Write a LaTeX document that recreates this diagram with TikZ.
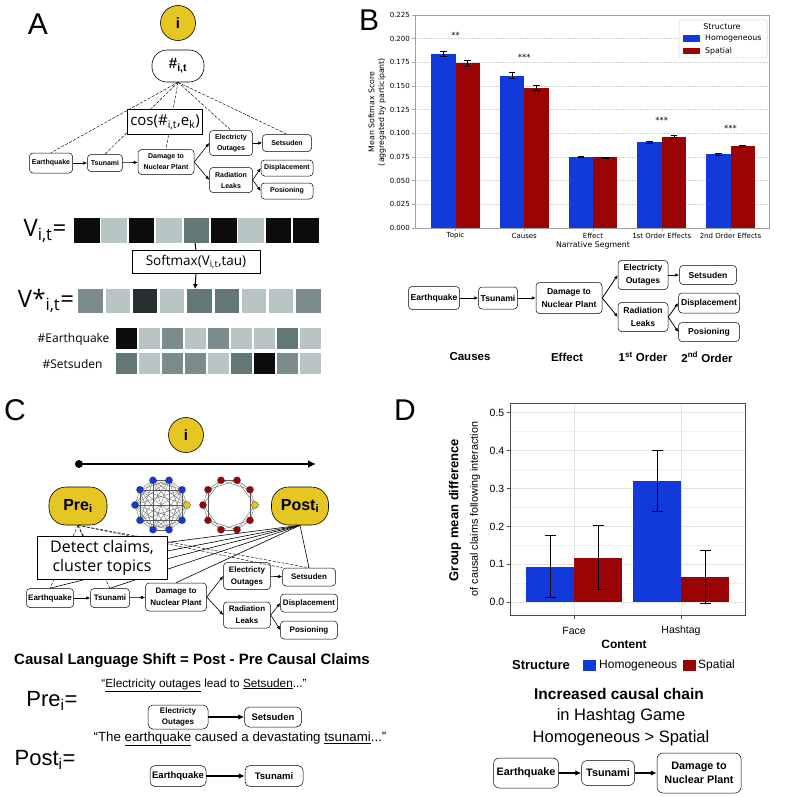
\documentclass[tikz,border=0pt]{standalone}
\usepackage{fontspec}
\setmainfont{Liberation Sans}
\newfontfamily\dvs{DejaVu Sans}
\newfontfamily\opn{Open Sans}
\usetikzlibrary{arrows.meta}
\definecolor{gold}{RGB}{230,198,35}
\definecolor{hblue}{RGB}{18,58,218}
\definecolor{sred}{RGB}{155,4,4}
\definecolor{sqA}{RGB}{12,12,12}
\definecolor{sqL}{RGB}{184,197,197}
\definecolor{sqM}{RGB}{122,140,140}
\definecolor{sqD}{RGB}{100,119,119}
\definecolor{sqK}{RGB}{38,48,48}
\begin{document}
\begin{tikzpicture}[x=1pt,y=-1pt,
  chainbox/.style={draw, rounded corners=3.5pt, fill=white, align=center, inner sep=0.5pt, line width=0.5pt},
  fA/.style={font=\bfseries\fontsize{7}{11}\selectfont},
  fB/.style={font=\bfseries\fontsize{8.6}{13}\selectfont},
  fC/.style={font=\bfseries\fontsize{8}{12}\selectfont},
  sarr/.style={-{Latex[length=4pt,width=3.5pt]}, line width=0.6pt},
  barr/.style={-{Latex[length=6pt,width=5.5pt]}, line width=1.5pt},
  dl/.style={dash pattern=on 3pt off 1.5pt, line width=0.45pt},
  sl/.style={line width=0.6pt},
  ibubble/.style={circle, draw, line width=0.6pt, fill=gold, minimum size=35, inner sep=0, font=\bfseries\fontsize{15}{15}\selectfont},
  letter/.style={font=\fontsize{30}{30}\selectfont},
  gridB/.style={gray!35, dash pattern=on 2pt off 1pt, line width=0.4pt},
  fdv/.style={font=\dvs\fontsize{7}{8}\selectfont},
  netb/.style={circle, draw=black!80, line width=0.3pt, fill=hblue, minimum size=7, inner sep=0},
  netr/.style={circle, draw=black!80, line width=0.3pt, fill=sred, minimum size=7, inner sep=0},
  nety/.style={circle, draw=black!80, line width=0.3pt, fill=gold, minimum size=7, inner sep=0},
  dgrid/.style={gray!22, line width=0.8pt},
  dgridm/.style={gray!12, line width=0.5pt},
]
\useasboundingbox (0,0) rectangle (786,797);
\fill[white] (0,0) rectangle (786,797);

% ================= Panel A =================
\node[letter] (la) at (38,24) {A};
\node[ibubble] (ai) at (178,23) {i};
\node[draw, fill=white, rounded corners=15pt, minimum width=52, minimum height=32, line width=0.6pt, font=\bfseries\fontsize{15}{15}\selectfont] (ahub) at (178,66) {\#\textsubscript{i,t}};

\node[chainbox, fA, minimum width=43, minimum height=20] (aE) at (51,163) {Earthquake};
\node[chainbox, fA, minimum width=35, minimum height=17] (aT) at (105,163) {Tsunami};
\node[chainbox, fA, minimum width=56, minimum height=25] (aD) at (166,162) {Damage to\\Nuclear Plant};
\node[chainbox, fA, minimum width=43, minimum height=25] (aO) at (231,143) {Electricty\\Outages};
\node[chainbox, fA, minimum width=49, minimum height=17] (aS) at (287,143) {Setsuden};
\node[chainbox, fA, minimum width=43, minimum height=25] (aR) at (231,180) {Radiation\\Leaks};
\node[chainbox, fA, minimum width=52, minimum height=16] (aP) at (287,168) {Displacement};
\node[chainbox, fA, minimum width=52, minimum height=16] (aX) at (287,191) {Posioning};

\draw[sarr] (aE) -- (aT);
\draw[sarr] (aT) -- (aD);
\draw[sarr] (aD.east) -- (aO.west);
\draw[sarr] (aD.east) -- (aR.west);
\draw[sarr] (aO) -- (aS);
\draw[sarr] (aR.east) -- (aP.west);
\draw[sarr] (aR.east) -- (aX.west);

\foreach \t in {aE,aT,aD,aO,aS} \draw[dl] (ahub.south) -- (\t.north);

\node[draw, fill=white, line width=1pt, minimum width=75, minimum height=25, inner sep=1pt, font=\opn\fontsize{15}{15}\selectfont] (acos) at (165,122) {cos(\#\textsubscript{i,t},e\textsubscript{k})};

% vectors
\node[font=\opn\fontsize{24}{24}\selectfont] (vl) at (45,231) {V\textsubscript{i,t}=};
\foreach \c [count=\k] in {sqA,sqL,sqA,sqL,sqD,sqA,sqL,sqA,sqA}
  \fill[\c] ({74+27.4*(\k-1)},218) rectangle ++(25.5,25);
\node[font=\opn\fontsize{24}{24}\selectfont] (vsl) at (46,301) {V*\textsubscript{i,t}=};
\foreach \c [count=\k] in {sqM,sqL,sqK,sqL,sqD,sqD,sqL,sqL,sqM}
  \fill[\c] ({78.3+27.25*(\k-1)},289) rectangle ++(24.4,24);
\coordinate (v5) at (195,243);
\coordinate (w5) at (195,289);
\node[draw, fill=white, line width=0.8pt, minimum width=128, minimum height=23, inner sep=1pt, font=\opn\fontsize{13.5}{14}\selectfont] (sm) at (196,262) {Softmax(V\textsubscript{i,t},tau)};
\draw[line width=1pt] (v5) -- (sm.north);
\draw[line width=1pt, -{Latex[length=5pt,width=5pt]}] (sm.south) -- (w5);

\node[anchor=east, font=\opn\fontsize{12}{12}\selectfont] (heq) at (113,339) {\#Earthquake};
\foreach \c [count=\k] in {sqA,sqL,sqM,sqL,sqM,sqL,sqL,sqD,sqL}
  \fill[\c] ({115.7+23*(\k-1)},328) rectangle ++(21,21);
\node[anchor=east, font=\opn\fontsize{12}{12}\selectfont] (hset) at (106,364) {\#Setsuden};
\foreach \c [count=\k] in {sqD,sqL,sqM,sqM,sqL,sqD,sqA,sqM,sqL}
  \fill[\c] ({115.7+23*(\k-1)},353) rectangle ++(21,21);

% ================= Panel B =================
\node[letter] (lb) at (369,20) {B};
\begin{scope}[shift={(0,228)}, yscale=-946.7]
  \foreach \v in {0.025,0.05,0.075,0.1,0.125,0.15,0.175,0.2}
    \draw[gridB] (415,\v) -- (769,\v);
  \foreach \v/\t in {0/0.000,0.025/0.025,0.05/0.050,0.075/0.075,0.1/0.100,0.125/0.125,0.15/0.150,0.175/0.175,0.2/0.200,0.225/0.225}{
    \draw[gray!70, line width=0.4pt] (412,\v) -- (415,\v);
    \node[fdv, anchor=east, inner sep=1pt] at (411,\v) {\t};
  }
  \foreach \g/\b/\r/\eb/\er in {455.5/0.184/0.174/0.0022/0.003, 524.25/0.161/0.148/0.003/0.003, 593/0.0755/0.0745/0.0005/0.0005, 661.75/0.0905/0.0965/0.001/0.001, 730.5/0.078/0.0865/0.001/0.001}{
    \fill[hblue] ({\g-24.3},0) rectangle (\g,\b);
    \fill[sred] (\g,0) rectangle ({\g+24.3},\r);
    \draw[line width=0.7pt] ({\g-12.15},{\b-\eb}) -- ({\g-12.15},{\b+\eb});
    \draw[line width=0.6pt] ({\g-15.5},{\b-\eb}) -- ({\g-8.8},{\b-\eb});
    \draw[line width=0.6pt] ({\g-15.5},{\b+\eb}) -- ({\g-8.8},{\b+\eb});
    \draw[line width=0.7pt] ({\g+12.15},{\r-\er}) -- ({\g+12.15},{\r+\er});
    \draw[line width=0.6pt] ({\g+8.8},{\r-\er}) -- ({\g+15.5},{\r-\er});
    \draw[line width=0.6pt] ({\g+8.8},{\r+\er}) -- ({\g+15.5},{\r+\er});
    \draw[gray!70, line width=0.4pt] (\g,0) -- (\g,-0.003);
  }
  \node[font=\dvs\fontsize{8.5}{9}\selectfont] at (455.5,0.203) {**};
  \node[font=\dvs\fontsize{8.5}{9}\selectfont] at (524.25,0.180) {***};
  \node[font=\dvs\fontsize{8.5}{9}\selectfont] at (661.75,0.114) {***};
  \node[font=\dvs\fontsize{8.5}{9}\selectfont] at (730.5,0.105) {***};
\end{scope}
\draw[gray!75, line width=0.6pt] (415,15) rectangle (769,228);
\foreach \g/\t in {455.5/Topic,524.25/Causes,593/Effect,661.75/1st Order Effects,730.5/2nd Order Effects}
  \node[fdv] at (\g,235.5) {\t};
\node[font=\dvs\fontsize{7.8}{8}\selectfont] (bxl) at (593,245.5) {Narrative Segment};
\node[rotate=90, font=\dvs\fontsize{7.8}{8}\selectfont] (byl1) at (371.5,112) {Mean Softmax Score};
\node[rotate=90, font=\dvs\fontsize{7.8}{8}\selectfont] (byl2) at (382,112) {(aggregated by participant)};
\draw[gray!35, fill=white, rounded corners=1.5pt, line width=0.5pt] (679,20) rectangle (767,58);
\node[font=\dvs\fontsize{8}{9}\selectfont] (blt) at (722,26.5) {Structure};
\fill[hblue] (683,35.5) rectangle (700,42);
\node[font=\dvs\fontsize{7.8}{9}\selectfont, anchor=west, inner sep=0] (blh) at (705,38.8) {Homogeneous};
\fill[sred] (683,48) rectangle (700,54.5);
\node[font=\dvs\fontsize{7.8}{9}\selectfont, anchor=west, inner sep=0] (bls) at (705,51.3) {Spatial};

% B flow chart
\node[chainbox, fB, minimum width=51, minimum height=23] (bE) at (434,298) {Earthquake};
\node[chainbox, fB, minimum width=39, minimum height=22] (bT) at (498,298) {Tsunami};
\node[chainbox, fB, minimum width=66, minimum height=31] (bD) at (569,298) {Damage to\\Nuclear Plant};
\node[chainbox, fB, minimum width=50, minimum height=29] (bO) at (643,275) {Electricty\\Outages};
\node[chainbox, fB, minimum width=57, minimum height=19] (bS) at (708,275) {Setsuden};
\node[chainbox, fB, minimum width=50, minimum height=29] (bR) at (643,317) {Radiation\\Leaks};
\node[chainbox, fB, minimum width=61, minimum height=20] (bP) at (709,303) {Displacement};
\node[chainbox, fB, minimum width=61, minimum height=19] (bX) at (709,332) {Posioning};
\draw[sarr, line width=0.8pt] (bE) -- (bT);
\draw[sarr, line width=0.8pt] (bT) -- (bD);
\draw[sarr, line width=0.8pt] (bD.east) -- (bO.west);
\draw[sarr, line width=0.8pt] (bD.east) -- (bR.west);
\draw[sarr, line width=0.8pt] (bO) -- (bS);
\draw[sarr, line width=0.8pt] (bR.east) -- (bP.west);
\draw[sarr, line width=0.8pt] (bR.east) -- (bX.west);
\node[font=\bfseries\fontsize{11.5}{12}\selectfont] (bc1) at (470,357) {Causes};
\node[font=\bfseries\fontsize{11.5}{12}\selectfont] (bc2) at (567,357) {Effect};
\node[font=\bfseries\fontsize{11.5}{12}\selectfont] (bc3) at (643,357) {1\textsuperscript{st} Order};
\node[font=\bfseries\fontsize{11.5}{12}\selectfont] (bc4) at (707,357) {2\textsuperscript{nd} Order};

% ================= Panel C =================
\node[letter] (lc) at (15,410) {C};
\node[ibubble] (ci) at (186,435) {i};
\node[circle, fill=black, inner sep=0, minimum size=8] (tdot) at (79,464) {};
\coordinate (tend) at (316,464);
\draw[line width=2.2pt, -{Latex[length=8pt,width=8pt]}] (tdot.center) -- (tend);

\node[draw, fill=gold, rounded corners=17pt, minimum width=58, minimum height=38, line width=0.6pt, font=\bfseries\fontsize{16}{16}\selectfont] (pre) at (78,506) {Pre\textsubscript{i}};
\node[draw, fill=gold, rounded corners=17pt, minimum width=57, minimum height=38, line width=0.6pt, font=\bfseries\fontsize{16}{16}\selectfont] (post) at (300,506) {Post\textsubscript{i}};

% networks
\foreach \k in {0,...,9}{
  \coordinate (na\k) at ({161+26*cos(36*\k)},{505-26*sin(36*\k)});
  \coordinate (nb\k) at ({229+26*cos(36*\k)},{505-26*sin(36*\k)});
}
\foreach \a in {0,...,9}{
  \foreach \b in {0,...,9}{
    \ifnum\a<\b \draw[gray!70!black, line width=0.3pt] (na\a) -- (na\b); \fi
  }
}
\foreach \a in {0,...,9}{
  \pgfmathtruncatemacro\bb{mod(\a+1,10)}
  \pgfmathtruncatemacro\cc{mod(\a+2,10)}
  \draw[gray!70!black, line width=0.35pt] (nb\a) -- (nb\bb);
  \draw[gray!70!black, line width=0.35pt] (nb\a) -- (nb\cc);
}
\foreach \k in {1,...,9}{
  \node[netb] (nba\k) at (na\k) {};
  \node[netr] (nrb\k) at (nb\k) {};
}
\node[nety] (nya) at (na0) {};
\node[nety] (nyb) at (nb0) {};

% C chain
\node[chainbox, fC, minimum width=47, minimum height=19] (cE) at (50,598) {Earthquake};
\node[chainbox, fC, minimum width=39, minimum height=19] (cT) at (110,598) {Tsunami};
\node[chainbox, fC, minimum width=61, minimum height=28] (cD) at (176,597) {Damage to\\Nuclear Plant};
\node[chainbox, fC, minimum width=47, minimum height=27] (cO) at (247,576) {Electricty\\Outages};
\node[chainbox, fC, minimum width=53, minimum height=18] (cS) at (309,577) {Setsuden};
\node[chainbox, fC, minimum width=47, minimum height=26] (cR) at (247,615) {Radiation\\Leaks};
\node[chainbox, fC, minimum width=57, minimum height=18] (cP) at (309,603) {Displacement};
\node[chainbox, fC, minimum width=57, minimum height=18] (cX) at (309,630) {Posioning};
\draw[sarr] (cE) -- (cT);
\draw[sarr] (cT) -- (cD);
\draw[sarr] (cD.east) -- (cO.west);
\draw[sarr] (cD.east) -- (cR.west);
\draw[sarr] (cO) -- (cS);
\draw[sarr] (cR.east) -- (cP.west);
\draw[sarr] (cR.east) -- (cX.west);

\coordinate (hid1) at (70,555);
\coordinate (hid2) at (95,565);
\foreach \t in {cE,cT} \draw[dl] (pre.south) -- (\t.north);
\draw[dl] (pre.south) -- (hid2);
\draw[dl] (pre.south) -- (cS.north west);
\draw[dl] (pre.south) -- (cS.north);
\foreach \t in {cE,cT,cD,cS} \draw[sl] (post.south) -- (\t.north);
\draw[sl] (post.south) -- (hid1);
\draw[sl] (post.south) -- (hid2);

\node[draw, fill=white, line width=0.8pt, align=center, minimum width=130, minimum height=43, inner sep=1pt, font=\opn\fontsize{16}{18.5}\selectfont] (det) at (102,558) {Detect claims,\\cluster topics};

% bottom of C
\node[font=\bfseries\fontsize{15}{17}\selectfont] (shift) at (192,661) {Causal Language Shift = Post - Pre Causal Claims};
\node[font=\fontsize{22}{24}\selectfont] (prel) at (52,701) {Pre\textsubscript{i}=};
\node[font=\fontsize{11.8}{13}\selectfont] (preq) at (204,685) {``\underline{Electricity outages} lead to \underline{Setsuden}...''};
\node[chainbox, font=\bfseries\fontsize{8}{10.5}\selectfont, rounded corners=5pt, minimum width=60, minimum height=24] (pO) at (178,717) {Electricty\\Outages};
\node[chainbox, font=\bfseries\fontsize{9.5}{11}\selectfont, rounded corners=5pt, minimum width=57, minimum height=20] (pS) at (273,717) {Setsuden};
\draw[barr] (pO) -- (pS);
\node[font=\fontsize{22}{24}\selectfont] (postl) at (45,760) {Post\textsubscript{i}=};
\node[font=\fontsize{13.3}{15}\selectfont] (postq) at (240,739) {``The \underline{earthquake} caused a devastating \underline{tsunami}...''};
\node[chainbox, font=\bfseries\fontsize{9.5}{11}\selectfont, rounded corners=5pt, minimum width=56, minimum height=21] (qE) at (178,776) {Earthquake};
\node[chainbox, font=\bfseries\fontsize{9.5}{11}\selectfont, rounded corners=5pt, minimum width=58, minimum height=21] (qT) at (274,776) {Tsunami};
\draw[barr] (qE) -- (qT);

% ================= Panel D =================
\node[letter] (ld) at (405,410) {D};
\begin{scope}[shift={(0,602.3)}, yscale=-379.2]
  \foreach \v in {0.05,0.15,0.25,0.35,0.45} \draw[dgridm] (510,\v) -- (745,\v);
  \foreach \v in {0,0.1,0.2,0.3,0.4,0.5} \draw[dgrid] (510,\v) -- (745,\v);
  \draw[dgrid] (574,-0.0335) -- (574,0.5256);
  \draw[dgrid] (681,-0.0335) -- (681,0.5256);
  \fill[hblue] (526,0) rectangle (574,0.093);
  \fill[sred] (574,0) rectangle (622,0.117);
  \fill[hblue] (633,0) rectangle (681,0.320);
  \fill[sred] (681,0) rectangle (729,0.066);
  \foreach \x/\lo/\hi in {550/0.012/0.175, 598/0.033/0.202, 657/0.240/0.400, 705/-0.004/0.136}{
    \draw[line width=0.9pt] (\x,\lo) -- (\x,\hi);
    \draw[line width=0.9pt] ({\x-5.5},\lo) -- ({\x+5.5},\lo);
    \draw[line width=0.9pt] ({\x-5.5},\hi) -- ({\x+5.5},\hi);
  }
  \foreach \v/\t in {0/0.0,0.1/0.1,0.2/0.2,0.3/0.3,0.4/0.4,0.5/0.5}{
    \draw[gray!60!black, line width=0.6pt] (506.5,\v) -- (510,\v);
    \node[anchor=east, inner sep=1pt, font=\fontsize{10.5}{12}\selectfont] at (505.5,\v) {\t};
  }
  \draw[gray!60!black, line width=0.6pt] (574,-0.0335) -- (574,-0.043);
  \draw[gray!60!black, line width=0.6pt] (681,-0.0335) -- (681,-0.043);
\end{scope}
\draw[gray!60!black, line width=0.7pt] (510,403) rectangle (745,615);
\node[font=\fontsize{10.5}{12}\selectfont] (dface) at (574,631) {Face};
\node[font=\fontsize{10.5}{12}\selectfont] (dhash) at (681,631) {Hashtag};
\node[font=\bfseries\fontsize{12}{13}\selectfont] (dcont) at (624,644) {Content};
\node[rotate=90, font=\bfseries\fontsize{13}{14}\selectfont] (dy1) at (455,510) {Group mean difference};
\node[rotate=90, font=\fontsize{10.8}{12}\selectfont] (dy2) at (475,509) {of causal claims following interaction};
\node[font=\bfseries\fontsize{13}{14}\selectfont] (dst) at (541,665) {Structure};
\fill[hblue] (583,659.5) rectangle (596,670.5);
\node[anchor=west, inner sep=0, font=\fontsize{12}{13}\selectfont] (dlh) at (599,665.5) {Homogeneous};
\fill[sred] (683,659.5) rectangle (696,670.5);
\node[anchor=west, inner sep=0, font=\fontsize{12}{13}\selectfont] (dls) at (698,665.5) {Spatial};

\node[font=\bfseries\fontsize{15.5}{17}\selectfont] (dinc) at (619,694) {Increased causal chain};
\node[font=\fontsize{16.5}{18}\selectfont] (dhg) at (621,716) {in Hashtag Game};
\node[font=\fontsize{16.5}{18}\selectfont] (dhs) at (621,738) {Homogeneous > Spatial};
\node[chainbox, font=\bfseries\fontsize{10.8}{14}\selectfont, rounded corners=6pt, minimum width=65, minimum height=30] (dE) at (526,773) {Earthquake};
\node[chainbox, font=\bfseries\fontsize{10.8}{14}\selectfont, rounded corners=6pt, minimum width=53, minimum height=25] (dT) at (608,773) {Tsunami};
\node[chainbox, font=\bfseries\fontsize{10.8}{14}\selectfont, rounded corners=6pt, minimum width=84, minimum height=40] (dD) at (699,773) {Damage to\\Nuclear Plant};
\draw[barr] (dE) -- (dT);
\draw[barr] (dT) -- (dD);
\end{tikzpicture}
\end{document}
